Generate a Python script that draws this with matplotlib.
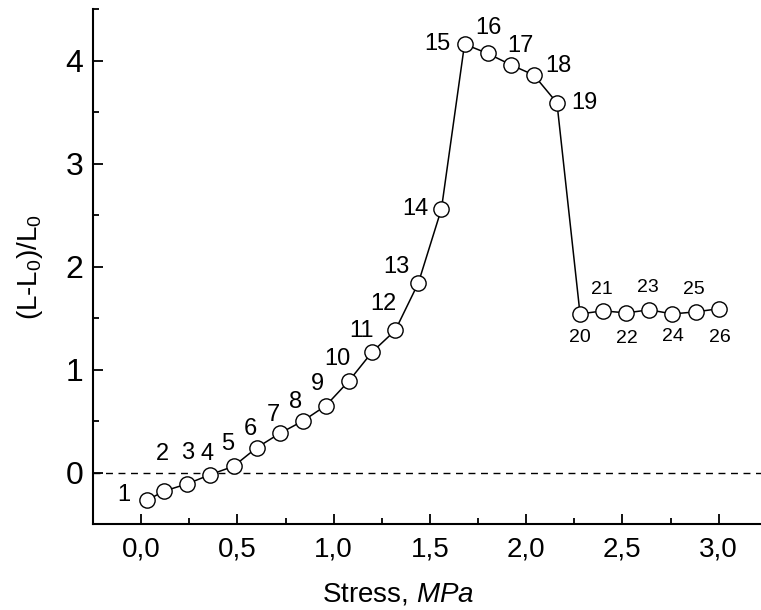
import matplotlib
matplotlib.use("Agg")
import matplotlib.pyplot as plt
from matplotlib.ticker import MultipleLocator, FuncFormatter

plt.rcParams["font.family"] = ["Liberation Sans", "DejaVu Sans"]
plt.rcParams["mathtext.fontset"] = "custom"
plt.rcParams["mathtext.rm"] = "Liberation Sans"
plt.rcParams["mathtext.it"] = "Liberation Sans:italic"

# stress (MPa) and relative elongation for samples 1..26
stress = [0.03, 0.12, 0.24, 0.36, 0.48, 0.60, 0.72, 0.84, 0.96, 1.08,
          1.20, 1.32, 1.44, 1.56, 1.68, 1.80, 1.92, 2.04, 2.16, 2.28,
          2.40, 2.52, 2.64, 2.76, 2.88, 3.00]
elong = [-0.27, -0.18, -0.11, -0.02, 0.06, 0.24, 0.38, 0.50, 0.65, 0.89,
         1.17, 1.38, 1.84, 2.56, 4.16, 4.07, 3.96, 3.86, 3.59, 1.54,
         1.57, 1.55, 1.58, 1.54, 1.56, 1.59]
point_ids = [str(i) for i in range(1, 27)]

# label offsets in pixels (dx, dy)
label_offsets = [(-23, 5), (-2, 37), (0, 31), (-3, 21), (-6, 22), (-6, 19),
                 (-6, 18), (-7, 19), (-8, 22), (-12, 22), (-11, 21), (-12, 26),
                 (-22, 16), (-26, 0), (-27, 0), (1, 25), (10, 19), (25, 9),
                 (27, 0), (0, -24), (-1, 21), (1, -26), (-1, 22), (0, -23),
                 (-2, 22), (1, -29)]

fig = plt.figure(figsize=(7.61, 6.10), dpi=100)
ax = fig.add_axes([0.1222, 0.141, 0.8778, 0.844])

ax.axhline(0, color="black", lw=1.0, ls=(0, (5, 4)), zorder=1)
ax.plot(stress, elong, color="black", lw=1.1, marker="o", ms=11,
        mfc="white", mec="black", mew=1.0, zorder=3)

for i, (x, y, txt) in enumerate(zip(stress, elong, point_ids)):
    size = 14 if i >= 19 else 17
    ax.annotate(txt, (x, y), xytext=label_offsets[i], textcoords="offset pixels",
                ha="center", va="center", fontsize=size)

ax.set_xlim(-0.25, 3.22)
ax.set_ylim(-0.5, 4.5)
ax.xaxis.set_major_locator(MultipleLocator(0.5))
ax.xaxis.set_minor_locator(MultipleLocator(0.25))
ax.yaxis.set_major_locator(MultipleLocator(1))
ax.yaxis.set_minor_locator(MultipleLocator(0.5))
ax.xaxis.set_major_formatter(FuncFormatter(lambda v, p: f"{v:.1f}".replace(".", ",")))
ax.yaxis.set_major_formatter(FuncFormatter(lambda v, p: f"{v:.0f}"))

for s in ("top", "right"):
    ax.spines[s].set_visible(False)
for s in ("left", "bottom"):
    ax.spines[s].set_linewidth(1.5)

ax.tick_params(which="both", direction="in", width=1.3)
ax.tick_params(which="major", length=7)
ax.tick_params(which="minor", length=4)
ax.tick_params(axis="x", pad=9, labelsize=20)
ax.tick_params(axis="y", pad=7, labelsize=23)

ax.set_xlabel("Stress, $\\it{MPa}$", fontsize=20)
ax.xaxis.set_label_coords(0.457, -0.111)
ax.set_ylabel("(L-L$\\mathregular{_0}$)/L$\\mathregular{_0}$", fontsize=20, labelpad=15)

fig.savefig("out.png", dpi=100)
